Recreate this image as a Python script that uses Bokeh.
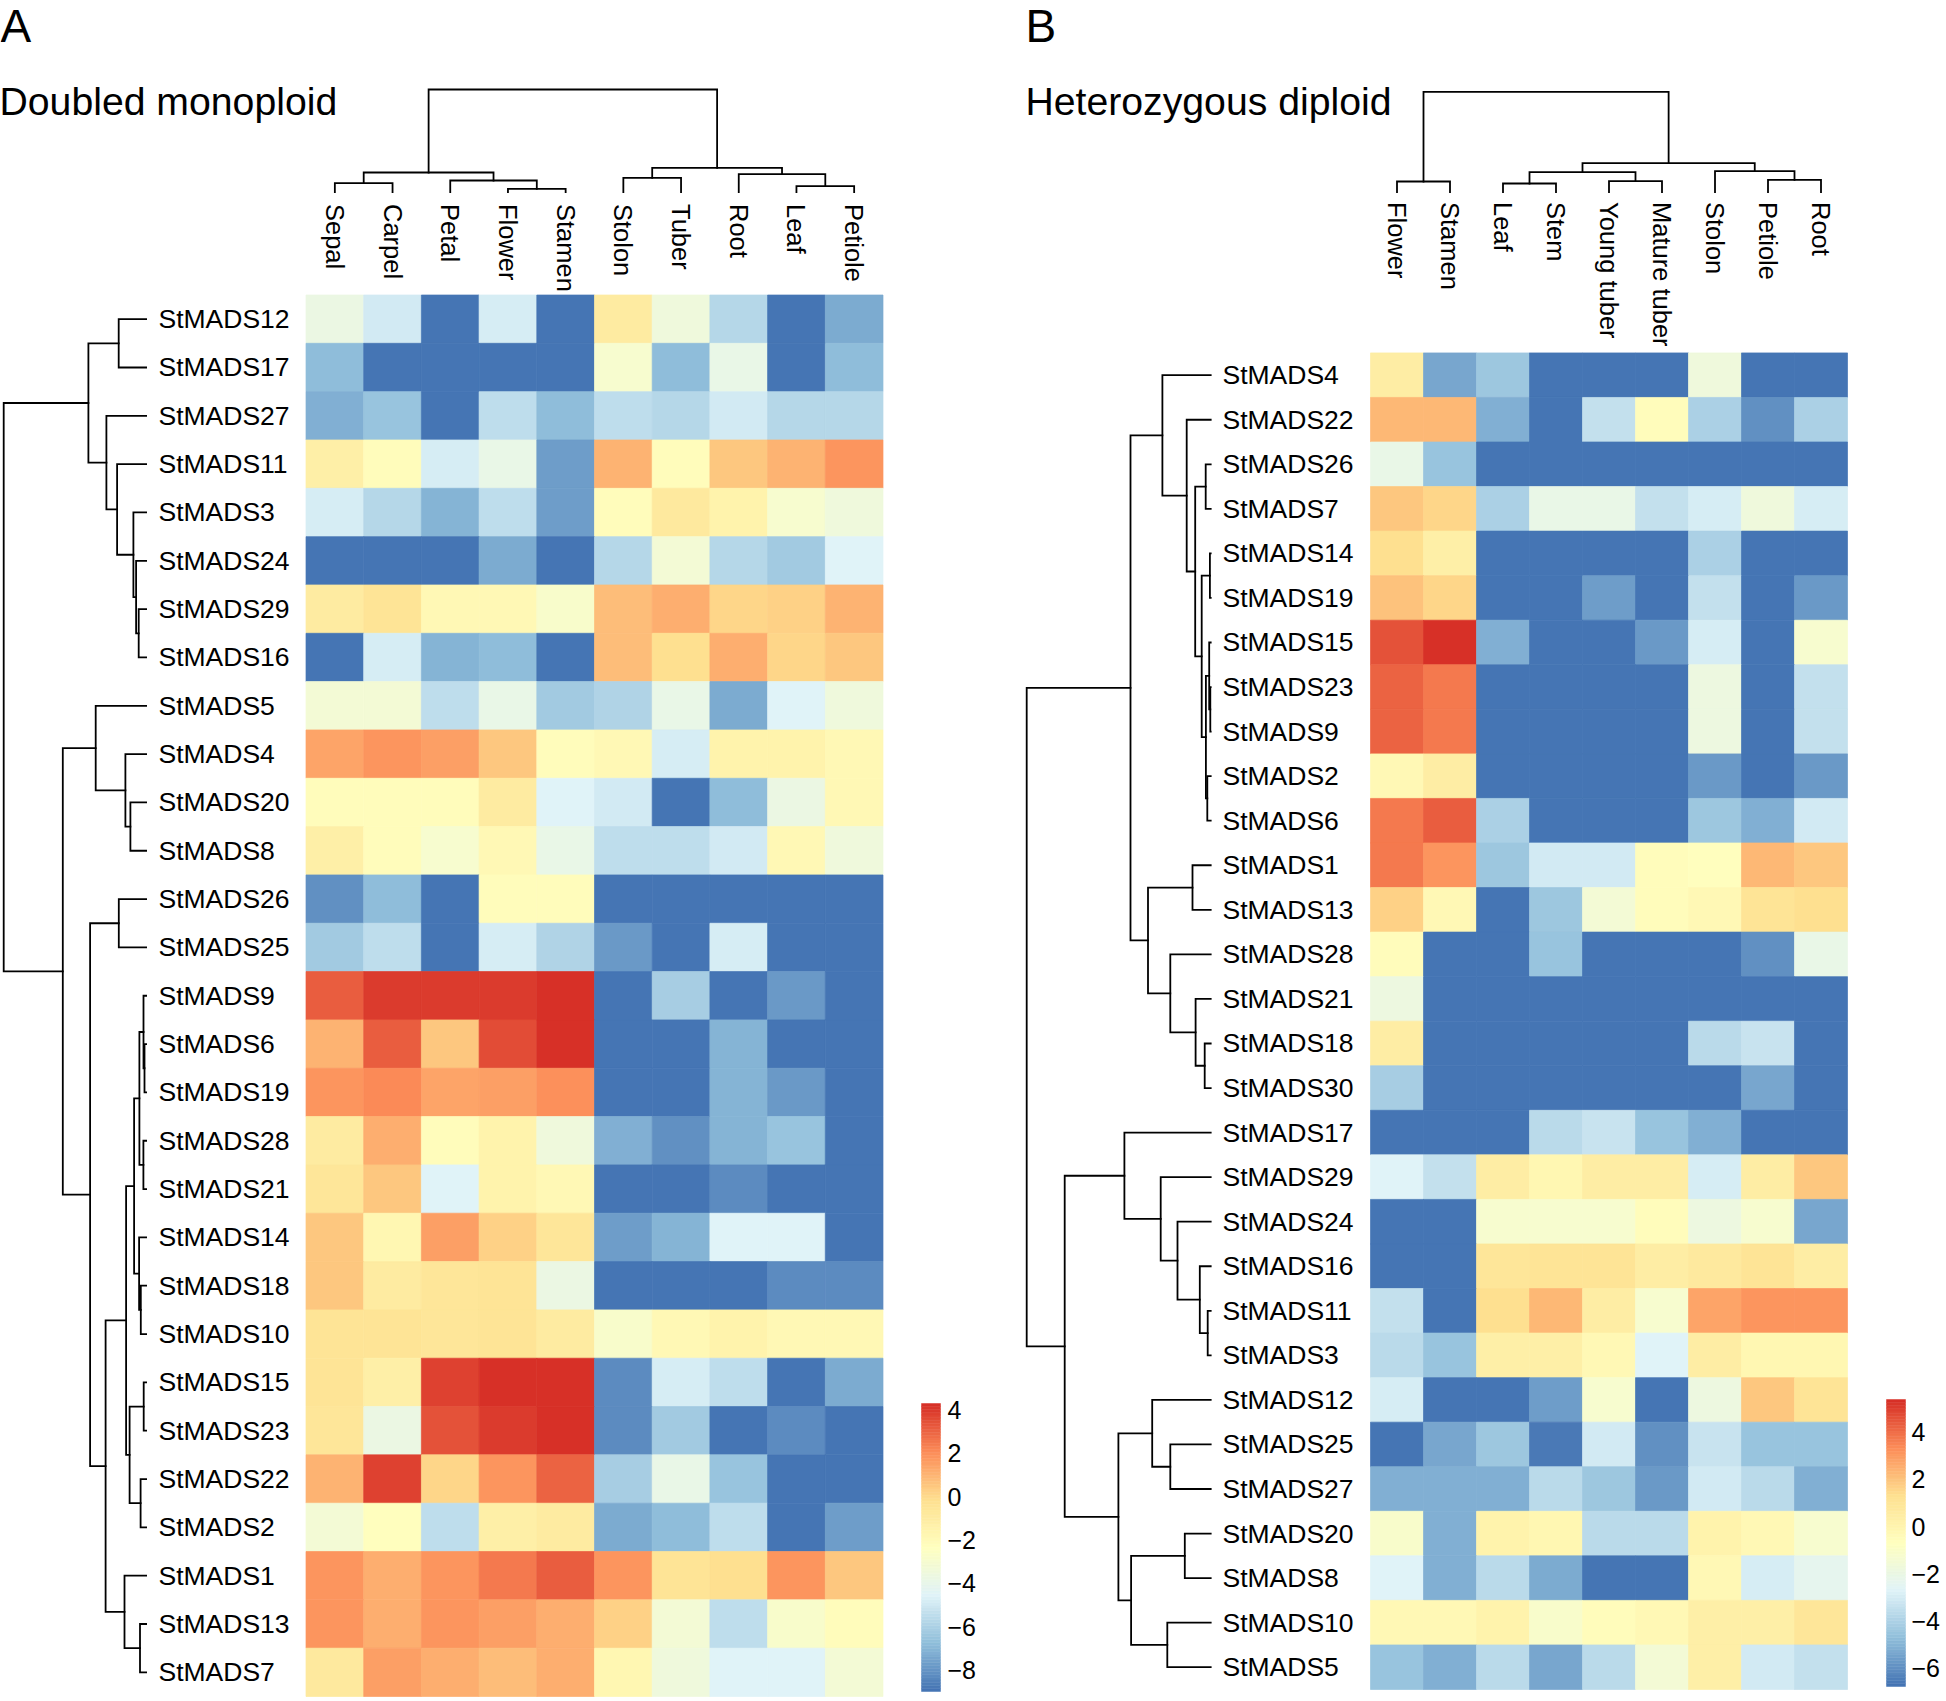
import numpy as np
from bokeh.plotting import figure
from bokeh.models import Range1d, ColumnDataSource, LinearColorMapper
from bokeh.core.properties import value
from bokeh.embed import file_html
from bokeh.resources import INLINE

# ---------------- Panel A : Doubled monoploid ----------------
title_A = "Doubled monoploid"
rows_A = ["StMADS12", "StMADS17", "StMADS27", "StMADS11", "StMADS3", "StMADS24", "StMADS29",
          "StMADS16", "StMADS5", "StMADS4", "StMADS20", "StMADS8", "StMADS26", "StMADS25",
          "StMADS9", "StMADS6", "StMADS19", "StMADS28", "StMADS21", "StMADS14", "StMADS18",
          "StMADS10", "StMADS15", "StMADS23", "StMADS22", "StMADS2", "StMADS1", "StMADS13", "StMADS7"]
cols_A = ["Sepal", "Carpel", "Petal", "Flower", "Stamen", "Stolon", "Tuber", "Root", "Leaf", "Petiole"]

A_Sepal = [-3.7, -6.8, -7.2, -1.2, -4.8, -9.0, -1.0, -9.0, -3.2, 1.4, -2.1, -1.2, -8.1, -6.3, 3.2, 1.0, 1.9, -1.0, -0.6, 0.5, 0.5, -0.4, -0.4, -0.6, 1.0, -3.2, 1.9, 1.9, -0.8]
A_Carpel = [-5.0, -9.0, -6.6, -2.1, -5.7, -9.0, -0.4, -4.8, -3.2, 1.9, -2.1, -2.1, -6.8, -5.5, 4.0, 3.2, 2.1, 1.2, 0.5, -1.7, -1.0, -0.4, -1.2, -3.7, 3.9, -2.3, 1.2, 1.2, 1.6]
A_Petal = [-9.0, -9.0, -9.0, -4.8, -7.1, -9.0, -1.9, -7.1, -5.5, 1.6, -2.1, -3.0, -9.0, -9.0, 4.0, 0.5, 1.4, -2.1, -4.6, 1.6, -0.6, -0.6, 3.9, 3.5, 0.1, -5.5, 1.9, 1.9, 1.2]
A_Flower = [-4.8, -9.0, -5.5, -3.9, -5.5, -7.4, -1.9, -6.8, -3.9, 0.5, -1.0, -1.9, -2.1, -4.8, 4.0, 3.6, 1.6, -1.5, -1.5, 0.3, -0.4, -0.4, 4.3, 4.0, 1.9, -1.2, 2.5, 1.6, 0.8]
A_Stamen = [-9.0, -9.0, -6.8, -7.7, -7.7, -9.0, -2.8, -9.0, -6.3, -2.1, -4.6, -3.9, -2.1, -5.9, 4.3, 4.3, 2.0, -3.5, -1.9, -0.6, -3.7, -1.0, 4.3, 4.3, 3.0, -1.0, 3.2, 1.2, 1.2]
A_Stolon = [-1.0, -3.0, -5.5, 1.0, -2.1, -5.7, 0.8, 0.8, -5.9, -1.9, -5.0, -5.5, -9.0, -7.9, -9.0, -9.0, -9.0, -7.2, -9.0, -7.7, -9.0, -2.8, -8.3, -8.3, -6.1, -7.4, 1.9, 0.3, -1.7]
A_Tuber = [-3.5, -6.8, -5.7, -2.1, -0.8, -3.2, 1.2, -0.1, -3.9, -4.8, -9.0, -5.5, -9.0, -9.0, -6.1, -9.0, -9.0, -8.1, -9.0, -7.1, -9.0, -1.9, -4.8, -6.3, -3.9, -6.8, -0.4, -3.2, -3.5]
A_Root = [-5.7, -3.9, -5.0, 0.5, -1.5, -5.7, 0.1, 1.2, -7.4, -1.5, -6.8, -5.0, -9.0, -4.8, -9.0, -7.1, -7.1, -7.1, -8.3, -4.6, -9.0, -1.5, -5.5, -9.0, -6.6, -5.5, -0.1, -5.5, -4.6]
A_Leaf = [-9.0, -9.0, -5.7, 1.0, -3.0, -6.3, 0.3, 0.1, -4.6, -1.5, -3.7, -1.9, -9.0, -9.0, -7.9, -9.0, -7.9, -6.6, -9.0, -4.6, -8.3, -1.9, -9.0, -8.3, -9.0, -9.0, 1.9, -2.8, -4.6]
A_Petiole = [-7.4, -6.8, -5.7, 1.9, -3.5, -4.6, 1.0, 0.5, -3.5, -1.9, -1.9, -3.5, -9.0, -9.0, -9.0, -9.0, -9.0, -9.0, -9.0, -9.0, -8.3, -1.9, -7.4, -9.0, -9.0, -7.7, 0.5, -2.1, -3.2]

# dendrogram merges (left id, right id, height); ids >= n refer to earlier merges
row_merges_A = [(6, 7, 7.4), (5, 29, 10.0), (4, 30, 12.7), (3, 31, 29.0), (2, 32, 39.7),
                (0, 1, 27.4), (34, 33, 57.7), (10, 11, 15.7), (9, 36, 20.7), (8, 37, 50.4),
                (15, 16, 1.6), (14, 39, 2.6), (17, 18, 2.7), (40, 41, 6.7), (20, 21, 5.3),
                (19, 43, 7.0), (42, 44, 12.0), (22, 23, 2.4), (24, 25, 5.5), (46, 47, 16.5),
                (45, 48, 20.0), (27, 28, 6.1), (26, 50, 21.6), (49, 51, 40.5), (12, 13, 27.3),
                (53, 52, 56.0), (38, 54, 83.3), (35, 55, 142.4)]
col_merges_A = [(0, 1, 9.0), (3, 4, 3.3), (2, 11, 11.7), (10, 12, 19.7), (5, 6, 14.3),
                (8, 9, 6.0), (7, 15, 18.0), (14, 16, 24.3), (13, 17, 102.7)]
ticks_A = [4, 2, 0, -2, -4, -6, -8]

# ---------------- Panel B : Heterozygous diploid ----------------
title_B = "Heterozygous diploid"
rows_B = ["StMADS4", "StMADS22", "StMADS26", "StMADS7", "StMADS14", "StMADS19", "StMADS15",
          "StMADS23", "StMADS9", "StMADS2", "StMADS6", "StMADS1", "StMADS13", "StMADS28",
          "StMADS21", "StMADS18", "StMADS30", "StMADS17", "StMADS29", "StMADS24", "StMADS16",
          "StMADS11", "StMADS3", "StMADS12", "StMADS25", "StMADS27", "StMADS20", "StMADS8",
          "StMADS10", "StMADS5"]
cols_B = ["Flower", "Stamen", "Leaf", "Stem", "Young tuber", "Mature tuber", "Stolon", "Petiole", "Root"]

B_Flower = [0.5, 2.3, -2.1, 1.9, 1.3, 2.1, 4.6, 4.2, 4.3, -0.3, 3.8, 3.8, 1.7, -0.5, -1.9, 0.5, -4.2, -6.8, -2.7, -6.8, -6.8, -3.5, -3.7, -2.9, -6.8, -5.1, -1.1, -2.7, -0.3, -4.6]
B_Stamen = [-5.4, 2.3, -4.6, 1.5, 0.3, 1.5, 5.4, 3.8, 3.8, 0.5, 4.4, 3.2, -0.3, -6.8, -6.8, -6.8, -6.8, -6.8, -3.5, -6.8, -6.8, -6.8, -4.6, -6.8, -5.4, -5.1, -5.1, -5.1, -0.3, -5.1]
B_Leaf = [-4.4, -5.1, -6.8, -4.0, -6.8, -6.8, -5.1, -6.8, -6.8, -6.8, -4.0, -4.4, -6.8, -6.8, -6.8, -6.8, -6.8, -6.8, 0.5, -1.3, 0.9, 1.3, 0.3, -6.8, -4.4, -5.1, 0.1, -3.7, 0.1, -3.7]
B_Stem = [-6.8, -6.8, -6.8, -2.1, -6.8, -6.8, -6.8, -6.8, -6.8, -6.8, -6.8, -3.1, -4.4, -4.6, -6.8, -6.8, -6.8, -3.7, -0.1, -1.3, 1.1, 2.3, 0.3, -5.6, -6.6, -3.7, -0.1, -5.3, -1.1, -5.4]
B_YoungTuber = [-6.8, -3.5, -6.8, -2.1, -6.8, -5.6, -6.8, -6.8, -6.8, -6.8, -6.8, -3.1, -1.5, -6.8, -6.8, -6.8, -6.8, -3.3, 0.5, -1.3, 1.1, 0.5, -0.3, -1.3, -3.1, -4.4, -3.7, -6.8, -0.5, -3.7]
B_MatureTuber = [-6.8, -0.5, -6.8, -3.5, -6.8, -6.8, -5.8, -6.8, -6.8, -6.8, -6.8, -0.5, -0.5, -6.8, -6.8, -6.8, -6.8, -4.6, 0.5, -0.5, 0.5, -1.3, -2.7, -6.8, -6.0, -5.8, -3.7, -6.8, -0.3, -1.5]
B_Stolon = [-1.7, -4.0, -6.8, -2.9, -4.0, -3.5, -2.9, -1.9, -1.9, -5.8, -4.4, -0.7, -0.3, -6.8, -6.8, -3.7, -6.8, -5.1, -2.9, -1.9, 0.7, 2.8, 0.5, -1.9, -3.3, -3.1, 0.1, -0.3, 0.3, 0.3]
B_Petiole = [-6.8, -6.0, -6.8, -1.7, -6.8, -6.8, -6.8, -6.8, -6.8, -6.8, -5.2, 2.3, 1.1, -6.0, -6.8, -3.3, -5.4, -6.8, 0.5, -1.3, 1.1, 3.1, -0.1, 1.9, -4.6, -3.7, -0.3, -2.9, 0.3, -3.1]
B_Root = [-6.8, -4.0, -6.8, -2.9, -6.8, -5.8, -1.3, -3.5, -3.5, -5.8, -3.1, 1.9, 1.3, -2.1, -6.8, -6.8, -6.8, -6.8, 1.9, -5.4, 0.5, 3.1, -0.1, 1.1, -4.6, -5.1, -1.3, -2.3, 0.9, -3.5]

row_merges_B = [(2, 3, 5.0), (4, 5, 0.8), (7, 8, 0.4), (6, 32, 1.5), (9, 10, 3.4), (33, 34, 4.8),
                (31, 35, 9.0), (30, 36, 15.5), (1, 37, 24.0), (0, 38, 48.3), (11, 12, 18.2),
                (15, 16, 6.0), (14, 41, 15.1), (13, 42, 40.4), (40, 43, 62.7), (39, 44, 80.2),
                (21, 22, 3.0), (20, 46, 10.9), (19, 47, 33.2), (18, 48, 50.0), (17, 49, 86.3),
                (24, 25, 40.4), (23, 51, 58.5), (26, 27, 25.9), (28, 29, 43.4), (53, 54, 79.6),
                (52, 55, 92.3), (50, 56, 146.0), (45, 57, 184.0)]
col_merges_B = [(0, 1, 10.7), (2, 3, 8.7), (4, 5, 11.0), (10, 11, 20.0), (7, 8, 12.3),
                (6, 13, 21.0), (12, 14, 29.0), (9, 15, 100.3)]
ticks_B = [4, 2, 0, -2, -4, -6]

# ---------------- styling / layout (page pixel space) ----------------
FONT = value("Liberation Sans")
LAY_A = dict(letter="A", lx=1, ly=26.5, tx=0, ty=101.5, hx0=306.5, hx1=883.5, hy0=295.5, hy1=1697.0,
             rleaf=146.6, rtree=142.4, rlab=159, cleaf=192.7, ctree=102.7, clab=204.5,
             cbx0=922, cbx1=941, cby0=1404, cby1=1692, cblab=948)
LAY_B = dict(letter="B", lx=1026, ly=26.5, tx=1026, ty=101.5, hx0=1371.0, hx1=1848.0, hy0=353.4, hy1=1690.0,
             rleaf=1211.2, rtree=184.0, rlab=1223, cleaf=192.7, ctree=100.3, clab=202.5,
             cbx0=1887, cbx1=1906, cby0=1400, cby1=1687, cblab=1912)


def ramp(anchors, n):
    rgb = [tuple(int(a[i:i + 2], 16) for i in (1, 3, 5)) for a in anchors]
    out = []
    for k in range(n):
        t = k / (n - 1) * (len(rgb) - 1)
        i = min(int(t), len(rgb) - 2)
        f = t - i
        c = [int(round(rgb[i][j] + (rgb[i + 1][j] - rgb[i][j]) * f)) for j in range(3)]
        out.append("#%02x%02x%02x" % tuple(c))
    return out


PAL = ramp(["#4575B4", "#91BFDB", "#E0F3F8", "#FFFFBF", "#FEE090", "#FC8D59", "#D73027"], 100)


def tree_paths(merges, n):
    pos = [float(i) for i in range(n)]
    hts = [0.0] * n
    out = []
    for a, b, h in merges:
        out.append((pos[a], hts[a], pos[b], hts[b], h))
        pos.append((pos[a] + pos[b]) / 2.0)
        hts.append(h)
    return out, max(hts)


def draw_panel(p, title, rows, cols, columns, row_merges, col_merges, ticks, L):
    nr, nc = len(rows), len(cols)
    vals = np.array(columns, dtype=float).T
    cw = (L["hx1"] - L["hx0"]) / nc
    rh = (L["hy1"] - L["hy0"]) / nr
    low, high = float(vals.min()), float(vals.max())
    mapper = LinearColorMapper(palette=PAL, low=low, high=high)

    xs, ys, vs = [], [], []
    for i in range(nr):
        for j in range(nc):
            xs.append(L["hx0"] + (j + 0.5) * cw)
            ys.append(L["hy0"] + (i + 0.5) * rh)
            vs.append(vals[i, j])
    src = ColumnDataSource(dict(x=xs, y=ys, v=vs))
    p.rect("x", "y", width=cw, height=rh, source=src,
           fill_color={"field": "v", "transform": mapper},
           line_color={"field": "v", "transform": mapper}, line_width=0.7)

    # row dendrogram
    paths, hmax = tree_paths(row_merges, nr)
    sc = L["rtree"] / hmax
    mx, my = [], []
    for pa, ha, pb, hb, h in paths:
        ya = L["hy0"] + (pa + 0.5) * rh
        yb = L["hy0"] + (pb + 0.5) * rh
        mx.append([L["rleaf"] - ha * sc, L["rleaf"] - h * sc, L["rleaf"] - h * sc, L["rleaf"] - hb * sc])
        my.append([ya, ya, yb, yb])
    p.multi_line(mx, my, line_color="black", line_width=1.8, line_join="miter", line_cap="square")

    # column dendrogram
    paths, hmax = tree_paths(col_merges, nc)
    sc = L["ctree"] / hmax
    mx, my = [], []
    for pa, ha, pb, hb, h in paths:
        xa = L["hx0"] + (pa + 0.5) * cw
        xb = L["hx0"] + (pb + 0.5) * cw
        mx.append([xa, xa, xb, xb])
        my.append([L["cleaf"] - ha * sc, L["cleaf"] - h * sc, L["cleaf"] - h * sc, L["cleaf"] - hb * sc])
    p.multi_line(mx, my, line_color="black", line_width=1.8, line_join="miter", line_cap="square")

    # row labels
    p.text(x=[L["rlab"]] * nr, y=[L["hy0"] + (i + 0.5) * rh for i in range(nr)], text=rows,
           text_font=FONT, text_font_size="26.5px", text_align="left", text_baseline="middle",
           text_color="black")
    # column labels (rotated, reading downwards)
    p.text(x=[L["hx0"] + (j + 0.5) * cw for j in range(nc)], y=[L["clab"]] * nc, text=cols,
           angle=-np.pi / 2, text_font=FONT, text_font_size="25.5px", text_align="left",
           text_baseline="middle", text_color="black")

    # colour key
    breaks = np.linspace(low, high, len(PAL) + 1)

    def v2y(v):
        return L["cby1"] - (v - low) / (high - low) * (L["cby1"] - L["cby0"])

    p.quad(left=L["cbx0"], right=L["cbx1"], bottom=[v2y(b) for b in breaks[:-1]],
           top=[v2y(b) for b in breaks[1:]], fill_color=PAL, line_color=PAL, line_width=0.5)
    p.text(x=[L["cblab"]] * len(ticks), y=[v2y(t) for t in ticks],
           text=[str(t).replace("-", "\u2212") for t in ticks], text_font=FONT,
           text_font_size="25px", text_align="left", text_baseline="middle", text_color="black")

    # panel letter and title
    p.text(x=[L["lx"]], y=[L["ly"]], text=[L["letter"]], text_font=FONT, text_font_size="46px",
           text_align="left", text_baseline="middle", text_color="black")
    p.text(x=[L["tx"]], y=[L["ty"]], text=[title], text_font=FONT, text_font_size="39.2px",
           text_align="left", text_baseline="middle", text_color="black")


p = figure(width=1944, height=1699, x_range=Range1d(1, 1945), y_range=Range1d(1700, 1),
           output_backend="svg", toolbar_location=None, x_axis_location=None, y_axis_location=None,
           min_border=0, outline_line_color=None, background_fill_color="white",
           border_fill_color="white")
p.grid.visible = False

draw_panel(p, title_A, rows_A, cols_A,
           [A_Sepal, A_Carpel, A_Petal, A_Flower, A_Stamen, A_Stolon, A_Tuber, A_Root, A_Leaf, A_Petiole],
           row_merges_A, col_merges_A, ticks_A, LAY_A)
draw_panel(p, title_B, rows_B, cols_B,
           [B_Flower, B_Stamen, B_Leaf, B_Stem, B_YoungTuber, B_MatureTuber, B_Stolon, B_Petiole, B_Root],
           row_merges_B, col_merges_B, ticks_B, LAY_B)

open("out.html", "w").write(file_html(p, INLINE))
